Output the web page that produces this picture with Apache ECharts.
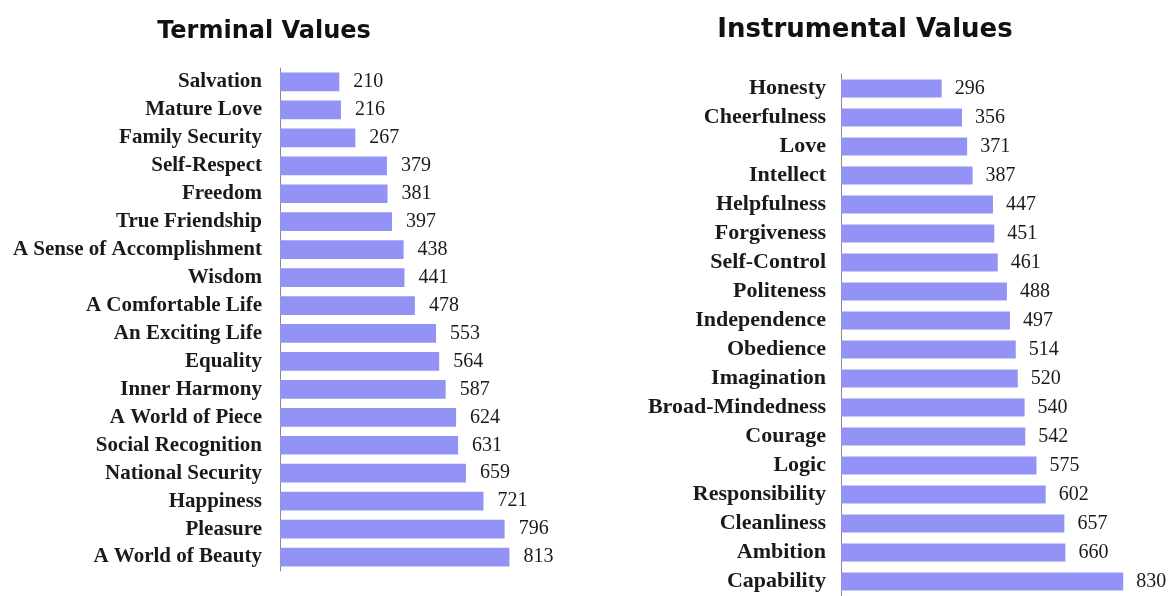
<!DOCTYPE html>
<html>
<head>
<meta charset="utf-8">
<script src="https://cdn.jsdelivr.net/npm/echarts@6/dist/echarts.min.js"></script>
<style>
html,body{margin:0;padding:0;background:#fff;}
#main{width:1171px;height:596px;}
</style>
</head>
<body>
<div id="main"></div>
<script>
const terminalCategories = ["Salvation","Mature Love","Family Security","Self-Respect","Freedom","True Friendship","A Sense of Accomplishment","Wisdom","A Comfortable Life","An Exciting Life","Equality","Inner Harmony","A World of Piece","Social Recognition","National Security","Happiness","Pleasure","A World of Beauty"];
const terminalValues = [210,216,267,379,381,397,438,441,478,553,564,587,624,631,659,721,796,813];

const instrumentalCategories = ["Honesty","Cheerfulness","Love","Intellect","Helpfulness","Forgiveness","Self-Control","Politeness","Independence","Obedience","Imagination","Broad-Mindedness","Courage","Logic","Responsibility","Cleanliness","Ambition","Capability"];
const instrumentalValues = [296,356,371,387,447,451,461,488,497,514,520,540,542,575,602,657,660,830];

const titles = ["Terminal Values","Instrumental Values"];

const barColor = '#9393f5';
const chart = echarts.init(document.getElementById('main'));

function yAxisCfg(idx, cats, fs, margin){
  return {
    type:'category', gridIndex:idx, data:cats, inverse:true,
    axisTick:{show:false},
    axisLine:{show:true, lineStyle:{color:'#8a8a8a', width:1}},
    axisLabel:{fontFamily:'Liberation Serif', fontWeight:'bold', fontSize:fs, color:'#1a1a1a', margin:margin},
    splitLine:{show:false}
  };
}
function xAxisCfg(idx){
  return {type:'value', gridIndex:idx, min:0, max:900, show:false, splitLine:{show:false}};
}
function seriesCfg(idx, vals, gap, dist){
  return {
    type:'bar', xAxisIndex:idx, yAxisIndex:idx, data:vals,
    barCategoryGap:gap,
    itemStyle:{color:barColor},
    label:{show:true, position:'right', distance:dist, fontFamily:'Liberation Serif', fontSize:20, color:'#1a1a1a'},
    silent:true, animation:false
  };
}

chart.setOption({
  animation:false,
  title:[
    {text:titles[0], left:259, top:15, textAlign:'center',
     textStyle:{fontFamily:'DejaVu Sans', fontWeight:'bold', fontSize:24, color:'#111'}},
    {text:titles[1], left:860, top:12, textAlign:'center',
     textStyle:{fontFamily:'DejaVu Sans', fontWeight:'bold', fontSize:26, color:'#111'}}
  ],
  grid:[
    {left:280, top:68, width:254, height:503},
    {left:841, top:74, width:306, height:522}
  ],
  xAxis:[xAxisCfg(0), xAxisCfg(1)],
  yAxis:[yAxisCfg(0, terminalCategories, 21, 18), yAxisCfg(1, instrumentalCategories, 22, 15)],
  series:[seriesCfg(0, terminalValues, '33%', 14), seriesCfg(1, instrumentalValues, '38%', 13)]
});
</script>
</body>
</html>
